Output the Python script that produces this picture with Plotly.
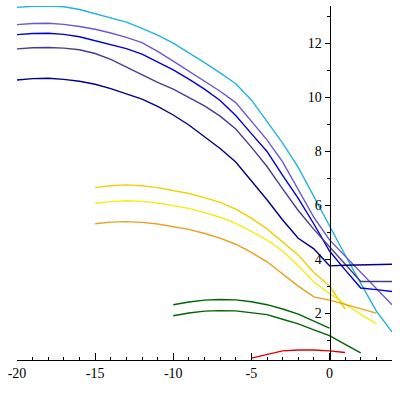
import plotly.graph_objects as go

# x values (integer steps)
x_blue = list(range(-20, 5))
cyan = [13.33, 13.37, 13.38, 13.35, 13.25, 13.1, 12.95, 12.78, 12.55, 12.3, 12.0, 11.65, 11.28,
        10.9, 10.5, 9.9, 9.1, 8.3, 7.4, 6.3, 5.2, 4.15, 3.1, 2.07, 1.3]
purple = [12.69, 12.73, 12.74, 12.7, 12.62, 12.52, 12.38, 12.22, 12.02, 11.7, 11.34, 10.97, 10.6,
          10.22, 9.8, 9.1, 8.42, 7.6, 6.6, 5.55, 4.71, 4.1, 3.5, 2.9, 2.31]
blue = [12.32, 12.36, 12.37, 12.33, 12.24, 12.1, 11.96, 11.8, 11.6, 11.32, 11.01, 10.67, 10.3,
        9.88, 9.32, 8.65, 7.99, 7.1, 6.25, 5.3, 4.3, 3.6, 2.93, 2.87, 2.8]
slate = [11.79, 11.83, 11.84, 11.82, 11.76, 11.62, 11.4, 11.12, 10.82, 10.55, 10.3, 10.0, 9.68,
         9.3, 8.82, 8.15, 7.43, 6.6, 5.8, 5.1, 4.45, 3.8, 3.17, 3.17, 3.17]
navy = [10.64, 10.69, 10.7, 10.66, 10.59, 10.48, 10.32, 10.12, 9.93, 9.66, 9.34, 8.97, 8.55,
        8.1, 7.6, 6.9, 6.2, 5.45, 4.77, 4.38, 3.75, 3.77, 3.79, 3.8, 3.81]

x_gold = list(range(-15, 2))
gold = [6.65, 6.72, 6.75, 6.72, 6.65, 6.55, 6.43, 6.28, 6.1, 5.85, 5.52, 5.12, 4.62, 4.15, 3.5, 3.0, 2.15]

x_yo = list(range(-15, 4))
yellow = [6.07, 6.13, 6.16, 6.14, 6.08, 5.99, 5.88, 5.72, 5.55, 5.32, 5.03, 4.7, 4.3, 3.75, 3.15,
          2.72, 2.32, 1.95, 1.6]
orange = [5.31, 5.37, 5.39, 5.36, 5.3, 5.2, 5.1, 4.95, 4.78, 4.55, 4.25, 3.9, 3.45, 3.0, 2.6,
          2.48, 2.32, 2.16, 2.0]

x_green1 = list(range(-10, 1))
green1 = [2.31, 2.41, 2.48, 2.5, 2.49, 2.42, 2.31, 2.15, 1.96, 1.7, 1.44]
x_green2 = list(range(-10, 3))
green2 = [1.9, 2.0, 2.07, 2.09, 2.08, 2.02, 1.94, 1.77, 1.6, 1.38, 1.16, 0.84, 0.52]

x_red = list(range(-5, 2))
red = [0.33, 0.47, 0.6, 0.63, 0.63, 0.6, 0.54]

x_tickvals = [-20, -15, -10, -5, 0]
x_ticktext = ["-20", "-15", "-10", "-5", "0"]
y_tickvals = [2, 4, 6, 8, 10, 12]

series = [
    (x_blue, cyan, "#22B4DC"),
    (x_blue, purple, "#6A5ACD"),
    (x_blue, blue, "#0000CD"),
    (x_blue, slate, "#483D8B"),
    (x_blue, navy, "#000080"),
    (x_gold, gold, "#F0D000"),
    (x_yo, yellow, "#F5EE10"),
    (x_yo, orange, "#E8A020"),
    (x_green1, green1, "#006400"),
    (x_green2, green2, "#006400"),
    (x_red, red, "#E00000"),
]

fig = go.Figure()
for xs, ys, c in series:
    fig.add_trace(go.Scatter(x=xs, y=ys, mode="lines", line=dict(color=c, width=1.4),
                             hoverinfo="skip", showlegend=False))

font = dict(family="Liberation Serif, Times New Roman, serif", size=14, color="black")
fig.update_layout(
    width=400, height=400,
    margin=dict(l=17, r=8, t=6, b=40),
    plot_bgcolor="white", paper_bgcolor="white",
    showlegend=False,
    xaxis=dict(range=[-20, 4], showgrid=False, zeroline=False, showline=True,
               linecolor="black", linewidth=1, ticks="inside", ticklen=7,
               tickcolor="black", tickvals=x_tickvals, ticktext=x_ticktext,
               tickfont=font,
               minor=dict(dtick=1, tick0=0, ticks="inside", ticklen=3, tickcolor="black")),
    yaxis=dict(range=[0.26, 13.38], showgrid=False, zeroline=False, showline=True,
               linecolor="black", linewidth=1, anchor="free", position=20/24,
               ticks="outside", ticklen=5, tickcolor="black",
               tickvals=y_tickvals, tickfont=font,
               minor=dict(dtick=1, tick0=1, ticks="outside", ticklen=3, tickcolor="black")),
)
fig.write_html("out.html", config={"displayModeBar": False})
